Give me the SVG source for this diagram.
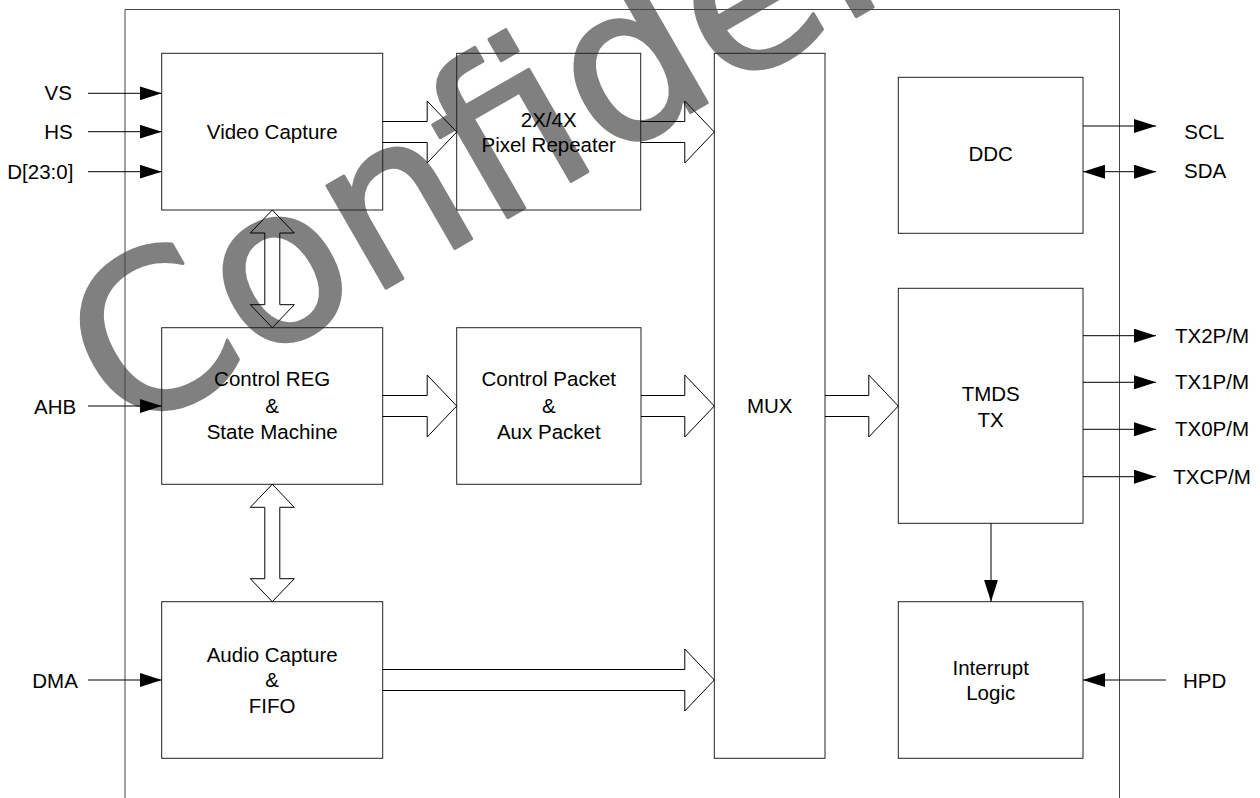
<svg xmlns="http://www.w3.org/2000/svg" width="1260" height="798" viewBox="0 0 1260 798">
<style>
.box{fill:none;stroke:#222;stroke-width:1}
.frame{fill:none;stroke:#444;stroke-width:1}
.t{font-family:"Liberation Sans",Arial,sans-serif;font-size:20.5px;fill:#000}
.c{text-anchor:middle}
.wire{stroke:#000;stroke-width:1;fill:none}
.blk{fill:none;stroke:#000;stroke-width:1;stroke-linejoin:miter}
.wm{font-family:"DejaVu Sans",sans-serif;font-size:216px;fill:#808080;stroke:#808080;stroke-width:3;stroke-linejoin:round}
</style>
<defs>
<marker id="ah" viewBox="0 0 22 14" refX="22" refY="7" markerWidth="22" markerHeight="14" markerUnits="userSpaceOnUse" orient="auto-start-reverse">
<path d="M0,0 L22,7 L0,14 z" fill="#000"/>
</marker>
</defs>
<rect width="1260" height="798" fill="#fff"/>
<text class="wm" x="124" y="439.5" transform="rotate(-30 124 439.5)">Confidential</text>
<path class="frame" d="M125,800 V9.5 H1119.5 V800"/>
<g id="video-capture"><rect class="box" x="161.7" y="53.3" width="221" height="156.7"/><text class="t c" x="272.2" y="139">Video Capture</text></g>
<g id="pixel-repeater"><rect class="box" x="456.7" y="53.3" width="184" height="156.7"/><text class="t c" x="548.7" y="127.3">2X/4X</text><text class="t c" x="548.7" y="152.3">Pixel Repeater</text></g>
<g id="mux"><rect class="box" x="714.3" y="53.3" width="110.7" height="705"/><text class="t c" x="769.7" y="413.3">MUX</text></g>
<g id="ddc"><rect class="box" x="898.3" y="77.3" width="184.7" height="156"/><text class="t c" x="990.7" y="160.6">DDC</text></g>
<g id="control-reg"><rect class="box" x="161.7" y="327.7" width="221" height="156.6"/><text class="t c" x="272.2" y="386.3">Control REG</text><text class="t c" x="272.2" y="413.3">&amp;</text><text class="t c" x="272.2" y="439">State Machine</text></g>
<g id="control-packet"><rect class="box" x="456.7" y="327.7" width="184.3" height="156.6"/><text class="t c" x="548.8" y="386.3">Control Packet</text><text class="t c" x="548.8" y="413.3">&amp;</text><text class="t c" x="548.8" y="439">Aux Packet</text></g>
<g id="tmds-tx"><rect class="box" x="898.3" y="288.3" width="184.7" height="235"/><text class="t c" x="990.7" y="400.6">TMDS</text><text class="t c" x="990.7" y="426.6">TX</text></g>
<g id="audio-capture"><rect class="box" x="161.7" y="601.7" width="221" height="156.6"/><text class="t c" x="272.2" y="661.6">Audio Capture</text><text class="t c" x="272.2" y="687.3">&amp;</text><text class="t c" x="272.2" y="713">FIFO</text></g>
<g id="interrupt-logic"><rect class="box" x="898.3" y="601.7" width="184.7" height="156.6"/><text class="t c" x="990.7" y="674.6">Interrupt</text><text class="t c" x="990.7" y="700">Logic</text></g>
<g id="labels">
<text class="t" x="44.5" y="99.5">VS</text>
<text class="t" x="44.3" y="139.3">HS</text>
<text class="t" x="7.3" y="179.3">D[23:0]</text>
<text class="t" x="34" y="413.5">AHB</text>
<text class="t" x="32.3" y="687.5">DMA</text>
<text class="t" x="1184.3" y="139.3">SCL</text>
<text class="t" x="1184" y="178.3">SDA</text>
<text class="t" x="1175" y="342.5">TX2P/M</text>
<text class="t" x="1175" y="389">TX1P/M</text>
<text class="t" x="1175" y="436">TX0P/M</text>
<text class="t" x="1173.3" y="483.5">TXCP/M</text>
<text class="t" x="1183" y="687.5">HPD</text>
</g>
<g id="connectors">
<line class="wire" x1="88" y1="93.3" x2="161.7" y2="93.3" marker-end="url(#ah)"/>
<line class="wire" x1="88" y1="131.7" x2="161.7" y2="131.7" marker-end="url(#ah)"/>
<line class="wire" x1="88" y1="171.7" x2="161.7" y2="171.7" marker-end="url(#ah)"/>
<line class="wire" x1="88" y1="406" x2="161.7" y2="406" marker-end="url(#ah)"/>
<line class="wire" x1="88" y1="680" x2="161.7" y2="680" marker-end="url(#ah)"/>
<line class="wire" x1="1083" y1="126" x2="1156" y2="126" marker-end="url(#ah)"/>
<line class="wire" x1="1083" y1="171.7" x2="1156" y2="171.7" marker-start="url(#ah)" marker-end="url(#ah)"/>
<line class="wire" x1="1083" y1="335.7" x2="1156" y2="335.7" marker-end="url(#ah)"/>
<line class="wire" x1="1083" y1="382.3" x2="1156" y2="382.3" marker-end="url(#ah)"/>
<line class="wire" x1="1083" y1="429.3" x2="1156" y2="429.3" marker-end="url(#ah)"/>
<line class="wire" x1="1083" y1="476.7" x2="1156" y2="476.7" marker-end="url(#ah)"/>
<line class="wire" x1="991" y1="523.3" x2="991" y2="601.7" marker-end="url(#ah)"/>
<line class="wire" x1="1166" y1="680" x2="1083" y2="680" marker-end="url(#ah)"/>
<polyline class="blk" points="382.7,121.5 427.2,121.5 427.2,101 456.7,132 427.2,163 427.2,142.5 382.7,142.5"/>
<polyline class="blk" points="640.7,121.5 684.8,121.5 684.8,101 714.3,132 684.8,163 684.8,142.5 640.7,142.5"/>
<polyline class="blk" points="382.7,395.5 427.2,395.5 427.2,375 456.7,406 427.2,437 427.2,416.5 382.7,416.5"/>
<polyline class="blk" points="641,395.5 684.8,395.5 684.8,375 714.3,406 684.8,437 684.8,416.5 641,416.5"/>
<polyline class="blk" points="825,395.5 868.8,395.5 868.8,375 898.3,406 868.8,437 868.8,416.5 825,416.5"/>
<polyline class="blk" points="382.7,669.5 684.8,669.5 684.8,649 714.3,680 684.8,711 684.8,690.5 382.7,690.5"/>
<polygon class="blk" points="272.3,210 294.3,233 279.8,233 279.8,304.7 294.3,304.7 272.3,327.7 250.3,304.7 264.8,304.7 264.8,233 250.3,233"/>
<polygon class="blk" points="272.3,484.3 294.3,507.3 279.8,507.3 279.8,578.7 294.3,578.7 272.3,601.7 250.3,578.7 264.8,578.7 264.8,507.3 250.3,507.3"/>
</g>
</svg>
